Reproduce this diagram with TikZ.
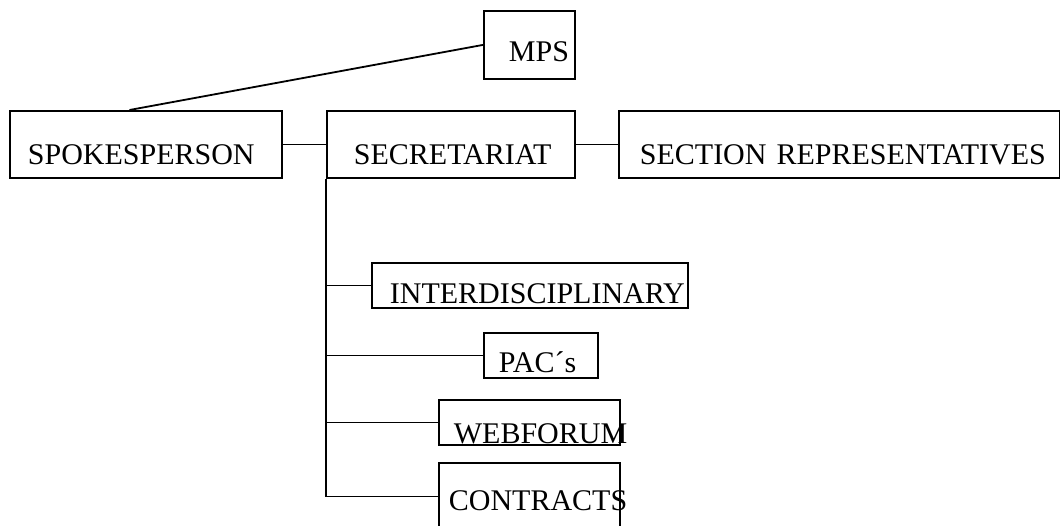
\documentclass[tikz,border=0pt]{standalone}
\usepackage{fontspec}
\setmainfont{Liberation Serif}
\usetikzlibrary{calc}

\tikzset{
	box/.style={draw, line width=1.8pt, anchor=north west, align=left, inner ysep=0pt, text depth=0pt,
		font=\fontsize{30}{36}\selectfont, execute at begin node={\hyphenpenalty=10000\relax}},
	link/.style={line width=1.8pt},
}

\begin{document}
\begin{tikzpicture}[x=1pt, y=-1pt]
	\useasboundingbox (0, 0) rectangle (1060, 525);
	% top row
	\node[box, inner xsep=25pt, text width=41pt, minimum height=68pt, text height=34pt] (mps) at (483, 10) {MPS};
	\node[box, inner xsep=18pt, text width=236pt, minimum height=67pt, text height=41pt] (spokes) at (9, 110) {SPOKESPERSON};
	\node[box, inner xsep=27pt, text width=194pt, minimum height=67pt, text height=41pt] (secr) at (326, 110) {SECRETARIAT};
	\node[box, inner xsep=21pt, text width=399pt, minimum height=67pt, text height=41pt] (sect) at (618, 110) {SECTION~REPRESENTATIVES};
	% groups below the secretariat
	\node[box, inner xsep=18pt, text width=280pt, minimum height=45pt, text height=37pt] (inter) at (371, 262) {INTERDISCIPLINARY};
	\node[box, inner xsep=15pt, text width=84pt, minimum height=45pt, text height=35pt] (pacs) at (483, 332) {PAC´s};
	\node[box, inner xsep=15pt, text width=151pt, minimum height=45pt, text height=43pt] (web) at (438, 399) {WEBFORUM};
	\node[box, inner xsep=10pt, text width=161pt, minimum height=67pt, text height=29pt] (contr) at (438, 462) {CONTRACTS};
	% connectors
	\draw[link] (mps.west) -- ($(spokes.north west)!0.44!(spokes.north east)$);
	\draw[link] (spokes.east) -- (secr.west);
	\draw[link] (secr.east) -- (sect.west);
	\draw[link] (secr.south west) |- (contr.west);
	\draw[link] (secr.south west |- inter.west) -- (inter.west);
	\draw[link] (secr.south west |- pacs.west) -- (pacs.west);
	\draw[link] (secr.south west |- web.west) -- (web.west);
\end{tikzpicture}
\end{document}
